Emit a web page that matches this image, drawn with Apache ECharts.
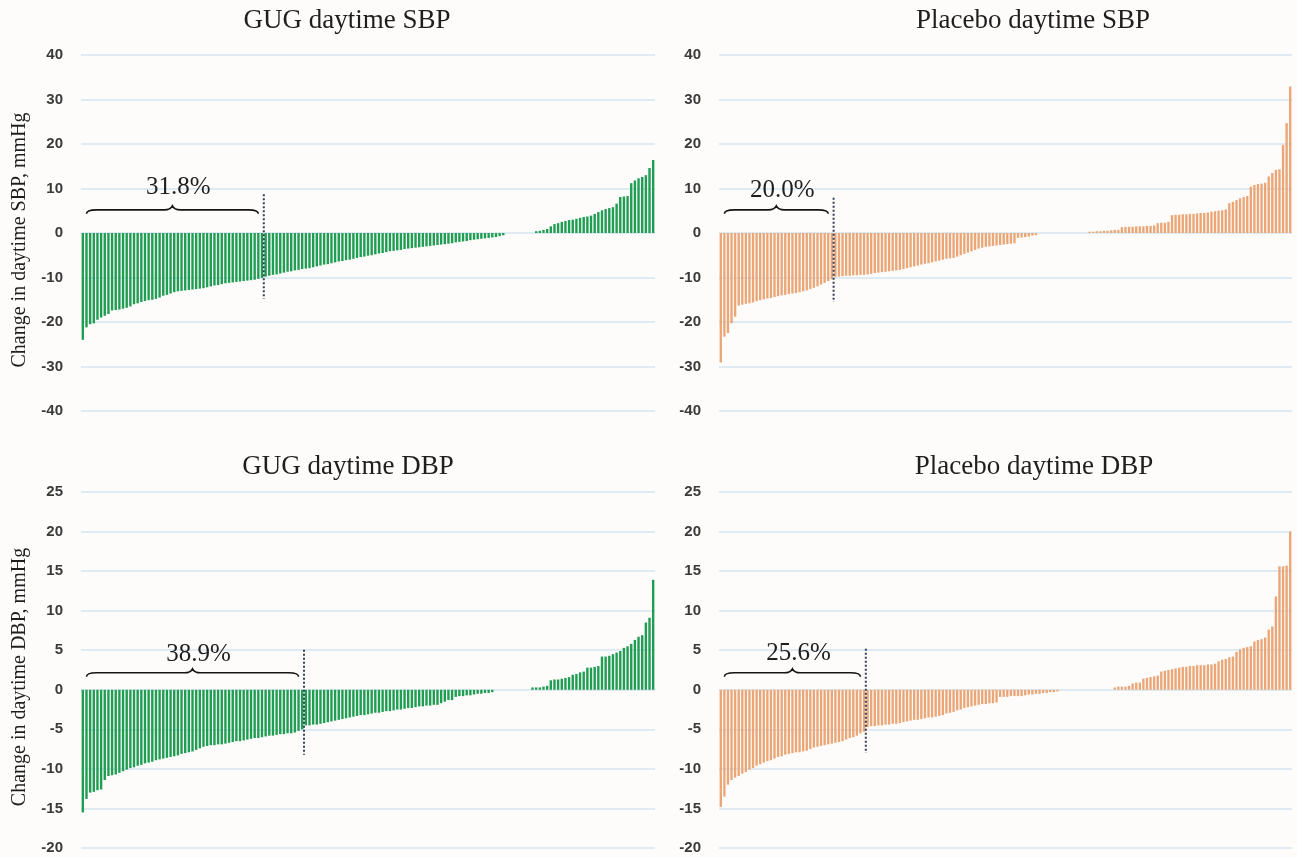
<!DOCTYPE html>
<html>
<head>
<meta charset="utf-8">
<script src="https://cdn.jsdelivr.net/npm/echarts@6/dist/echarts.min.js"></script>
<style>
html,body{margin:0;padding:0;background:#fdfcfb;}
#c{width:1297px;height:857px;}
</style>
</head>
<body>
<div id="c"></div>
<script>
// ---- data (sorted change per participant, mmHg) ----
const gugSBP = [-24,-21.2,-20.5,-20.3,-19.5,-19,-18.6,-18.2,-17.4,-17.3,
-17.2,-17,-16.8,-16.5,-16,-15.8,-15.5,-15.3,-15.1,-15,
-14.8,-14.5,-14.1,-13.9,-13.6,-13.3,-13.1,-13,-12.9,-12.8,
-12.7,-12.6,-12.5,-12.4,-12.2,-12,-11.8,-11.7,-11.5,-11.3,
-11.2,-11.1,-11,-10.9,-10.8,-10.7,-10.6,-10.5,-10.3,-10.1,
-9.8,-9.6,-9.4,-9.3,-9.1,-8.9,-8.7,-8.6,-8.4,-8.3,
-8.1,-8,-7.9,-7.7,-7.5,-7.3,-7.1,-7,-6.8,-6.6,
-6.4,-6.3,-6.1,-6,-5.8,-5.6,-5.4,-5.3,-5.1,-5,
-4.8,-4.6,-4.5,-4.3,-4.1,-4,-3.9,-3.8,-3.6,-3.5,
-3.4,-3.3,-3.2,-3.1,-3,-2.9,-2.8,-2.7,-2.6,-2.5,
-2.4,-2.3,-2.1,-2,-1.9,-1.8,-1.6,-1.5,-1.4,-1.3,
-1.2,-1.1,-1,-0.9,-0.7,-0.5,
0,0,0,0,0,0,0,0,
0.4,0.5,0.7,0.9,1.5,2,2.2,2.5,2.7,2.9,3,3.2,3.4,3.6,3.7,3.9,4.3,4.7,5.1,5.4,5.6,5.8,6.6,8.1,8.2,8.3,11.2,11.8,12.3,12.6,13,14.6,16.4];

const placeboSBP = [-29.1,-23.3,-22.5,-20.3,-18.8,-16.3,-16.1,-15.9,-15.8,-15.6,
-15.3,-15.1,-14.9,-14.7,-14.6,-14.4,-14.2,-14,-13.9,-13.7,
-13.6,-13.5,-13.3,-13.1,-12.9,-12.6,-12.3,-12,-11.6,-11.2,
-10.8,-10.4,
-9.9,-9.8,-9.7,-9.6,-9.6,-9.5,-9.5,-9.4,-9.4,-9.3,
-9.2,-9,-8.9,-8.8,-8.7,-8.6,-8.5,-8.4,-8.3,-8.1,
-7.9,-7.7,-7.5,-7.3,-7.1,-6.9,-6.8,-6.6,-6.4,-6.2,
-6,-5.8,-5.7,-5.6,-5.3,-5,-4.7,-4.4,-4.1,-3.8,
-3.5,-3.3,-3.1,-3,-2.9,-2.8,-2.7,-2.6,-2.5,-2.4,
-2.3,-1.1,-1,-0.9,-0.8,-0.6,-0.5,
0,0,0,0,0,0,0,0,0,0,0,0,0,0,
0.3,0.3,0.4,0.4,0.5,0.5,0.6,0.7,0.7,
1.3,1.4,1.4,1.4,1.5,1.5,1.5,1.6,1.6,1.7,
2.2,2.3,2.3,2.5,
4,4.1,4.1,4.2,4.2,4.3,4.3,4.4,4.5,4.5,4.6,4.8,4.9,5,5.1,5.3,
6.7,7,7.4,7.8,8.1,8.3,
10.4,10.8,11,11.1,11.3,
12.7,13.5,14.2,14.3,
19.8,24.7,32.9];

const gugDBP = [-15.5,-13.8,-13,-12.9,-12.7,-12.6,-11.4,-10.9,-10.8,-10.7,
-10.5,-10.3,-10.1,-9.9,-9.8,-9.6,-9.5,-9.3,-9.2,-9.1,
-8.9,-8.8,-8.7,-8.6,-8.5,-8.4,-8.3,-8.1,-8,-7.9,
-7.8,-7.6,-7.4,-7.2,-7.1,-7,-7,-6.9,-6.9,-6.8,
-6.7,-6.6,-6.5,-6.5,-6.4,-6.3,-6.2,-6.1,-6.1,-6,
-5.9,-5.8,-5.8,-5.7,-5.6,-5.6,-5.5,-5.5,-5.4,-5.2,
-5,
-4.5,-4.5,-4.4,-4.4,-4.3,-4.2,-4.1,-4,-3.9,
-3.8,-3.7,-3.6,-3.5,-3.4,-3.3,-3.2,-3.2,-3.1,-3,
-2.9,-2.9,-2.8,-2.7,-2.7,-2.6,-2.5,-2.5,-2.4,-2.3,
-2.3,-2.2,-2.1,-2.1,-2,-2,-1.9,-1.9,-1.7,-1.5,
-1.3,-1.3,-0.9,-0.8,-0.8,-0.7,-0.7,-0.6,-0.5,-0.5,
-0.4,-0.4,-0.3,
0,0,0,0,0,0,0,0,0,0,
0.3,0.3,0.3,0.4,0.5,1.2,1.3,1.3,1.4,1.5,1.6,1.9,2,2.2,2.3,2.8,2.8,2.9,3,
4.2,4.2,4.3,4.5,4.7,4.9,5.3,5.5,5.8,6.3,6.7,6.9,8.5,9.1,13.9];

const placeboDBP = [-14.8,-13.5,-12,-11.4,-11.1,-10.9,-10.6,-10.4,-10.1,-9.9,
-9.6,-9.4,-9.2,-9,-8.9,-8.7,-8.5,-8.4,-8.2,-8.1,
-8,-7.9,-7.9,-7.8,-7.7,-7.5,-7.3,-7.2,-7.1,-7,
-6.9,-6.8,-6.7,-6.6,-6.5,-6.3,-6.1,-6,-5.8,-5.5,
-5.3,
-4.7,-4.6,-4.6,-4.5,-4.5,-4.4,-4.4,-4.3,-4.3,
-4.2,-4.1,-4,-3.9,-3.8,-3.8,-3.7,-3.6,-3.5,-3.5,
-3.4,-3.3,-3.2,-3,-2.9,-2.8,-2.6,-2.5,-2.3,-2.2,
-2.1,-2,-1.9,-1.8,-1.8,-1.7,-1.7,-1.6,-0.9,-0.9,
-0.9,-0.8,-0.8,-0.8,-0.8,-0.7,-0.6,-0.6,-0.5,-0.5,
-0.4,-0.4,-0.3,-0.3,-0.2,
0,0,0,0,0,0,0,0,0,0,0,0,0,0,0,
0.3,0.4,0.4,0.4,0.5,0.8,0.9,0.9,1.4,1.5,1.6,1.7,1.8,
2.3,2.4,2.5,2.6,2.7,2.8,2.9,2.9,3,3,3.1,3.1,3.1,3.2,3.2,3.3,
3.6,3.8,3.9,4.1,4.2,4.8,5.1,5.3,5.4,5.5,6.1,6.3,6.4,6.6,7.6,8,
11.8,15.6,15.6,15.7,20];

const panelTitles = ['GUG daytime SBP','Placebo daytime SBP','GUG daytime DBP','Placebo daytime DBP'];
const pctLabels = ['31.8%','20.0%','38.9%','25.6%'];
const cutoffCounts = [50, 32, 61, 41];          // bars at or beyond the threshold
const yNames = ['Change in daytime SBP, mmHg','Change in daytime DBP, mmHg'];
const yRanges = [[-40,40,10],[-40,40,10],[-20,25,5],[-20,25,5]];

// ---- layout / style ----
const series4 = [gugSBP, placeboSBP, gugDBP, placeboDBP];
const colors = ['#1f9d52','#eaa676','#1f9d52','#eaa676'];
const gridPos = [
  {left:81, top:55, width:574, height:356},
  {left:719, top:55, width:573, height:356},
  {left:81, top:492, width:574, height:356},
  {left:719, top:492, width:573, height:356}
];
const titlePos = [[342,2],[1028,2],[343,448],[1029,448]];
const yNamePos = [[20,240],[20,677]];
const ann = [ // braceY, textY, dotTop, dotBottom (data units)
  [5.2, 10.3, 8.7, -14.8],
  [5.2, 9.6, 7.9, -15.5],
  [2.15, 4.5, 5.05, -8.2],
  [2.15, 4.6, 5.2, -8.0]
];

const chart = echarts.init(document.getElementById('c'));
const grid = [], xAxis = [], yAxis = [], series = [], title = [];
for (let i = 0; i < 4; i++) {
  const d = series4[i];
  grid.push(gridPos[i]);
  title.push({text: panelTitles[i], left: titlePos[i][0], top: titlePos[i][1], textAlign: 'center',
    textStyle: {fontFamily: '"Liberation Serif", "DejaVu Serif", serif', fontSize: 27, fontWeight: 'normal', color: '#1e1e1e'}});
  xAxis.push({gridIndex: i, type: 'category', data: d.map((_, j) => j + 1), show: false});
  xAxis.push({gridIndex: i, type: 'value', min: 0, max: d.length, show: false});
  yAxis.push({
    gridIndex: i, type: 'value', min: yRanges[i][0], max: yRanges[i][1], interval: yRanges[i][2],
    axisLine: {show: false}, axisTick: {show: false},
    axisLabel: {margin: 18, fontFamily: '"Liberation Sans", Arial, sans-serif', fontWeight: 'bold', fontSize: 15, color: '#3a3a3a'},
    splitLine: {lineStyle: {color: '#d6e4f0', width: 1.5}}
  });
  series.push({
    type: 'bar', xAxisIndex: 2 * i, yAxisIndex: i, data: d, silent: true,
    barCategoryGap: '34%', itemStyle: {color: colors[i]}, animation: false
  });
  const cut = cutoffCounts[i];
  const a = ann[i];
  series.push({
    type: 'line', xAxisIndex: 2 * i + 1, yAxisIndex: i, silent: true, animation: false,
    data: [[cut, a[2]], [cut, a[3]]], symbol: 'none', z: 5,
    lineStyle: {type: 'dotted', color: '#33415e', width: 2}
  });
  series.push({
    type: 'custom', xAxisIndex: 2 * i + 1, yAxisIndex: i, silent: true, animation: false, clip: false, z: 6,
    data: [[1.5, cut - 1.5, a[0], a[1]]],
    renderItem: (function (label) {
      return function (params, api) {
        const p1 = api.coord([api.value(0), api.value(2)]);
        const p2 = api.coord([api.value(1), api.value(2)]);
        const pt = api.coord([(api.value(0) + api.value(1)) / 2, api.value(3)]);
        const x1 = p1[0], x2 = p2[0], y = p1[1], xm = (x1 + x2) / 2;
        const path = 'M' + x1 + ',' + (y + 4) + ' Q' + x1 + ',' + y + ' ' + (x1 + 10) + ',' + y +
          ' L' + (xm - 8) + ',' + y + ' Q' + (xm - 2) + ',' + y + ' ' + xm + ',' + (y - 4) +
          ' Q' + (xm + 2) + ',' + y + ' ' + (xm + 8) + ',' + y +
          ' L' + (x2 - 10) + ',' + y + ' Q' + x2 + ',' + y + ' ' + x2 + ',' + (y + 4);
        return {
          type: 'group',
          children: [
            {type: 'path', shape: {pathData: path}, style: {stroke: '#151515', fill: 'none', lineWidth: 1.6}},
            {type: 'text', x: pt[0] + 6, y: pt[1], style: {text: label, fill: '#1e1e1e',
              font: '25px "Liberation Serif", serif', align: 'center', verticalAlign: 'middle',
              textAlign: 'center', textVerticalAlign: 'middle'}}
          ]
        };
      };
    })(pctLabels[i])
  });
}
const graphic = yNames.map((t, k) => ({
  type: 'text', x: yNamePos[k][0], y: yNamePos[k][1], rotation: Math.PI / 2,
  style: {text: t, fill: '#1e1e1e', font: '20px "Liberation Serif", serif',
    align: 'center', verticalAlign: 'middle', textAlign: 'center', textVerticalAlign: 'middle'}
}));
chart.setOption({backgroundColor: '#fdfcfb', animation: false, title, grid, xAxis, yAxis, series, graphic});
</script>
</body>
</html>
